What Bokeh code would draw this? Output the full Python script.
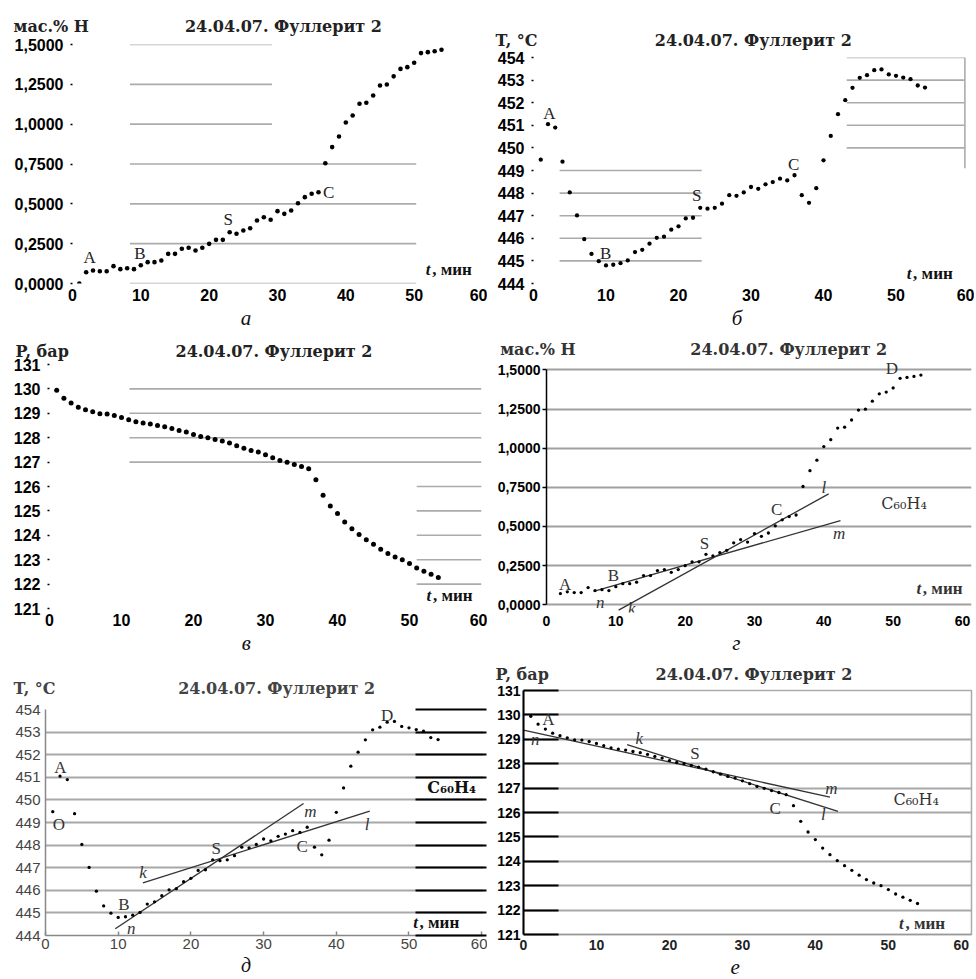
from bokeh.plotting import figure
from bokeh.layouts import column, row
from bokeh.models import Range1d, FixedTicker, Label, LinearAxis, Title, Plot
from bokeh.embed import file_html
from bokeh.resources import INLINE

# ---------------- data ----------------
t_min = list(range(1, 55))
h_wt = [0.0, 0.071, 0.082, 0.077, 0.077, 0.109, 0.09, 0.096, 0.09, 0.115,
        0.134, 0.134, 0.144, 0.186, 0.186, 0.218, 0.224, 0.207, 0.224, 0.249,
        0.274, 0.274, 0.322, 0.312, 0.333, 0.347, 0.395, 0.416, 0.4, 0.454,
        0.437, 0.458, 0.504, 0.542, 0.563, 0.573, 0.755, 0.856, 0.923, 1.01,
        1.054, 1.128, 1.134, 1.18, 1.243, 1.249, 1.3, 1.347, 1.358, 1.385,
        1.446, 1.452, 1.458, 1.467]
T_c = [449.48, 451.05, 450.9, 449.39, 448.03, 447.01, 445.96, 445.31, 444.99, 444.8,
       444.83, 444.9, 445.02, 445.39, 445.49, 445.76, 446.02, 446.07, 446.38, 446.53,
       446.88, 446.91, 447.35, 447.31, 447.35, 447.53, 447.91, 447.88, 448.03, 448.27,
       448.19, 448.39, 448.49, 448.64, 448.56, 448.79, 447.91, 447.57, 448.22, 449.45,
       450.53, 451.49, 452.11, 452.66, 453.1, 453.22, 453.44, 453.47, 453.25, 453.19,
       453.11, 453.04, 452.76, 452.67]
P_bar = [129.94, 129.62, 129.42, 129.25, 129.15, 129.06, 128.98, 128.97, 128.91, 128.83,
         128.74, 128.65, 128.6, 128.56, 128.5, 128.45, 128.38, 128.3, 128.23, 128.13,
         128.05, 128.0, 127.93, 127.86, 127.78, 127.67, 127.57, 127.48, 127.41, 127.3,
         127.18, 127.07, 126.99, 126.9, 126.82, 126.73, 126.28, 125.64, 125.2, 124.89,
         124.54, 124.27, 124.03, 123.82, 123.63, 123.43, 123.25, 123.11, 123.0, 122.84,
         122.66, 122.53, 122.4, 122.27]

# tangent lines (end points)
g_nm_t = [6.8, 42.4];   g_nm_h = [0.085, 0.537]
g_kl_t = [10.4, 40.7];  g_kl_h = [-0.035, 0.708]
d_nm_t = [9.6, 35.5];   d_nm_T = [444.3, 449.84]
d_kl_t = [13.4, 44.6];  d_kl_T = [446.33, 449.5]
e_nm_t = [0.0, 42.0];   e_nm_P = [129.38, 126.63]
e_kl_t = [14.2, 43.1];  e_kl_P = [128.78, 126.05]

# ticks
x_ticks = [0, 10, 20, 30, 40, 50, 60]
h_ticks = [0.0, 0.25, 0.5, 0.75, 1.0, 1.25, 1.5]
h_tick_labels = ["0,0000", "0,2500", "0,5000", "0,7500", "1,0000", "1,2500", "1,5000"]
T_ticks = list(range(444, 455))
P_ticks = list(range(121, 132))

TITLE = "24.04.07. Фуллерит 2"
UNIT_H = "мас.% H"
UNIT_T = "T, °C"
UNIT_P = "P, бар"

GRID_COL = "#ababab"
TFONT = 16            # px, title font size
EM = "\u2003"
SIXTH = "\u2006"
# estimated advance widths (em) of the unit labels in DejaVu Serif Bold
UNIT_W = {UNIT_H: 4.68, UNIT_T: 2.78, UNIT_P: 3.58}
HAS_FRAME_ALIGN = "frame_align" in Plot.properties()


def spaces(width, size):
    """run of em / sixth-em spaces about `width` px wide at font size `size`"""
    n_em = int(width // size)
    n_6 = int(round((width - n_em * size) / (size / 6.0)))
    return EM * n_em + SIXTH * n_6


def base_fig(fw, fh, bl, br, bt, bb, xr, yr):
    p = figure(frame_width=fw, frame_height=fh,
               x_range=Range1d(*xr), y_range=Range1d(*yr),
               output_backend="svg", toolbar_location=None,
               min_border_left=bl, min_border_right=br,
               min_border_top=bt, min_border_bottom=bb)
    if HAS_FRAME_ALIGN:
        p.frame_align = False
    p.outline_line_color = None
    p.xgrid.grid_line_color = None
    p.ygrid.grid_line_color = None
    return p


def style_axis(ax, ticks, size, weight, color, tick_in, tick_out, standoff,
               line_color, overrides=None, tick_color="black", tick_width=1.5,
               line_width=1.5):
    ax.ticker = FixedTicker(ticks=ticks)
    ax.major_label_text_font = "Liberation Sans"
    ax.major_label_text_font_size = f"{size}px"
    ax.major_label_text_font_style = weight
    ax.major_label_text_color = color
    ax.major_tick_in = tick_in
    ax.major_tick_out = tick_out
    ax.minor_tick_in = 0
    ax.minor_tick_out = 0
    ax.major_label_standoff = standoff
    ax.axis_line_color = line_color
    ax.axis_line_width = line_width
    ax.major_tick_line_color = tick_color
    ax.major_tick_line_width = tick_width
    if overrides:
        ax.major_label_overrides = overrides


def lab(p, x, y, text, size=16, font="Liberation Serif", style="normal",
        align="center", baseline="middle", color="#222", xoff=0):
    p.add_layout(Label(x=x, y=y, text=text, text_font=font,
                       text_font_size=f"{size}px", text_font_style=style,
                       text_align=align, text_baseline=baseline,
                       text_color=color, x_offset=xoff))


def head(p, unit, unit_x, title_x, frame_left, standoff, color="#222"):
    """unit label and title on one line above the frame (canvas px positions)"""
    gap = title_x - unit_x - UNIT_W[unit] * TFONT
    text = unit + spaces(gap, TFONT) + TITLE
    p.add_layout(Title(text=text, align="left", offset=unit_x - frame_left,
                       standoff=standoff, text_font="DejaVu Serif",
                       text_font_size=f"{TFONT}px", text_font_style="bold",
                       text_color=color), "above")


def letter(p, text, shift, size=21):
    # centred under the frame; trailing spaces move the letter `shift` px left
    p.add_layout(Title(text=text + spaces(2 * shift, size), align="center",
                       standoff=0, text_font="Liberation Serif",
                       text_font_style="italic", text_font_size=f"{size}px",
                       text_color="#111"), "below")


def partial_grid(p, rows):
    x0 = [r[1] for r in rows]
    x1 = [r[2] for r in rows]
    y = [r[0] for r in rows]
    p.segment(x0=x0, y0=y, x1=x1, y1=y, line_color=GRID_COL, line_width=1.6)


def t_label(p, x, y, size=17, color="#111"):
    lab(p, x, y, "t", size=size, style="bold italic", color=color)
    lab(p, x, y, ", мин", size=size, style="bold", align="left", color=color, xoff=4)


h_over = dict(zip(h_ticks, h_tick_labels))

# ---------------- panel а ----------------
pa = base_fig(410, 239, 72, 5, 44, 47, (0, 60), (0, 1.5))
style_axis(pa.below[0], x_ticks, 16, "bold", "black", 0, 0, 5, None)
style_axis(pa.left[0], h_ticks, 16, "bold", "black", 0, 2, 7, None, h_over)
partial_grid(pa, [(1.5, 8.4, 29.2), (1.25, 8.4, 29.2), (1.0, 8.4, 29.2),
                  (0.75, 8.4, 50.3), (0.5, 8.4, 50.3), (0.25, 8.4, 50.3),
                  (0.0, 8.4, 50.3)])
pa.scatter(t_min, h_wt, size=4.6, marker="circle", fill_color="black", line_color=None)
for (x, y, s) in [(2.5, 0.161, "A"), (9.85, 0.19, "B"), (22.8, 0.4, "S"), (37.5, 0.573, "C")]:
    lab(pa, x, y, s, size=17)
t_label(pa, 52.05, 0.086)
head(pa, UNIT_H, 13, 184, 72, 17)
letter(pa, "а", 32)

# ---------------- panel б ----------------
pb = base_fig(435, 226, 46, 6, 57, 47, (0, 60), (444, 454))
style_axis(pb.below[0], x_ticks, 16, "bold", "black", 0, 0, 5, None)
style_axis(pb.left[0], T_ticks, 16, "bold", "black", 0, 2, 7, None)
partial_grid(pb, [(449, 3.6, 23.2), (448, 3.6, 23.2), (447, 3.6, 23.2),
                  (446, 3.6, 23.2), (445, 3.6, 23.2),
                  (454, 43.2, 59.5), (453, 43.2, 59.5), (452, 43.2, 59.5),
                  (451, 43.2, 59.5), (450, 43.2, 59.5)])
pb.segment(x0=[59.5], y0=[449.1], x1=[59.5], y1=[454.0], line_color=GRID_COL, line_width=1.6)
pb.scatter(t_min, T_c, size=4.3, marker="circle", fill_color="black", line_color=None)
for (x, y, s) in [(2.2, 451.54, "A"), (9.97, 445.34, "B"), (22.5, 447.89, "S"), (35.9, 449.27, "C")]:
    lab(pb, x, y, s, size=17)
t_label(pb, 51.8, 444.43)
head(pb, UNIT_T, 8, 169, 46, 16)
letter(pb, "б", 14.5)

# ---------------- panel в ----------------
pc = base_fig(432, 244, 49, 6, 34, 47, (0, 60), (121, 131))
style_axis(pc.below[0], x_ticks, 16, "bold", "black", 0, 0, 5, None)
style_axis(pc.left[0], P_ticks, 16, "bold", "black", 0, 2, 7, None)
partial_grid(pc, [(130, 11.1, 60), (129, 11.1, 60), (128, 11.1, 60), (127, 11.1, 60),
                  (126, 51.0, 60), (125, 51.0, 60), (124, 51.0, 60), (123, 51.0, 60),
                  (122, 51.0, 60)])
pc.scatter(t_min, P_bar, size=5, marker="circle", fill_color="black", line_color=None)
t_label(pc, 52.7, 121.52)
head(pc, UNIT_P, 15, 179, 49, 8)
letter(pc, "в", 20)

# ---------------- panel г ----------------
pd_ = base_fig(425, 252, 59, 3, 30, 43, (0, 61.3), (-0.05, 1.56))
style_axis(pd_.below[0], x_ticks, 14, "bold", "black", 0, 0, 3, None)
style_axis(pd_.left[0], h_ticks, 14, "bold", "black", 0, 4, 2, "black", h_over)
pd_.left[0].bounds = (0, 1.5)
pd_.ygrid.ticker = FixedTicker(ticks=h_ticks)
pd_.ygrid.grid_line_color = "#a0a0a0"
pd_.ygrid.grid_line_width = 1.8
pd_.line(g_nm_t, g_nm_h, line_color="#333", line_width=1.3)
pd_.line(g_kl_t, g_kl_h, line_color="#333", line_width=1.3)
pd_.scatter(t_min[1:], h_wt[1:], size=3.3, marker="circle", fill_color="black", line_color=None)
for (x, y, s) in [(2.7, 0.132, "A"), (9.67, 0.185, "B"), (22.8, 0.388, "S"),
                  (33.2, 0.605, "C"), (49.8, 1.507, "D")]:
    lab(pd_, x, y, s, size=17, color="#333")
for (x, y, s) in [(40.0, 0.75, "l"), (42.2, 0.452, "m"), (7.75, 0.015, "n"), (12.3, -0.022, "k")]:
    lab(pd_, x, y, s, size=17, style="italic", color="#333")
lab(pd_, 48.3, 0.645, "C₆₀H₄", size=16, font="DejaVu Serif", align="left", color="#333")
t_label(pd_, 53.7, 0.104, color="#333")
head(pd_, UNIT_H, 12.7, 202.7, 59, 3, color="#333")
letter(pd_, "г", 23.5)

# ---------------- panel д ----------------
pe = base_fig(438, 226, 45, 4, 54, 43, (0, 60.25), (444, 454))
style_axis(pe.below[0], x_ticks, 15, "normal", "#444", 4, 0, 3, "#888", tick_color="#888")
style_axis(pe.left[0], T_ticks, 15, "normal", "#444", 0, 0, 5, "#888")
pe.ygrid.ticker = FixedTicker(ticks=T_ticks)
pe.ygrid.grid_line_color = "#a8a8a8"
pe.ygrid.grid_line_width = 1.8
rax = LinearAxis(ticker=FixedTicker(ticks=T_ticks), major_tick_in=68, major_tick_out=3,
                 major_tick_line_color="black", major_tick_line_width=1.8,
                 minor_tick_in=0, minor_tick_out=0, axis_line_color=None,
                 major_label_text_font_size="1px", major_label_standoff=0,
                 major_label_overrides={v: "" for v in T_ticks})
pe.add_layout(rax, "right")
pe.line(d_nm_t, d_nm_T, line_color="#333", line_width=1.3)
pe.line(d_kl_t, d_kl_T, line_color="#333", line_width=1.3)
pe.scatter(t_min, T_c, size=3.3, marker="circle", fill_color="black", line_color=None)
for (x, y, s) in [(2.06, 451.42, "A"), (1.83, 448.91, "O"), (10.8, 445.37, "B"),
                  (23.5, 447.84, "S"), (35.3, 447.95, "C"), (47.0, 453.72, "D")]:
    lab(pe, x, y, s, size=17, color="#333")
for (x, y, s) in [(36.45, 449.5, "m"), (44.25, 448.91, "l"), (13.4, 446.77, "k"), (11.8, 444.31, "n")]:
    lab(pe, x, y, s, size=17, style="italic", color="#333")
lab(pe, 52.5, 450.55, "C₆₀H₄", size=16, font="DejaVu Serif", style="bold", align="left", color="#111")
t_label(pe, 50.9, 444.56)
head(pe, UNIT_T, 13, 180, 45, 23, color="#444")
letter(pe, "д", 19, size=20)

# ---------------- panel е ----------------
pf = base_fig(448, 244, 36, 3, 34, 45, (0, 61.4), (121, 131))
style_axis(pf.below[0], x_ticks, 14, "bold", "#222", 0, 0, 5, "#999")
style_axis(pf.left[0], P_ticks, 14, "bold", "black", 35, 0, 3, "black", tick_width=2, line_width=2)
pf.ygrid.ticker = FixedTicker(ticks=P_ticks)
pf.ygrid.grid_line_color = "#a8a8a8"
pf.ygrid.grid_line_width = 1.8
pf.outline_line_color = "#aaaaaa"
pf.outline_line_width = 1.5
pf.line(e_nm_t, e_nm_P, line_color="#333", line_width=1.3)
pf.line(e_kl_t, e_kl_P, line_color="#333", line_width=1.3)
pf.scatter(t_min, P_bar, size=3.3, marker="circle", fill_color="black", line_color=None)
for (x, y, s) in [(3.4, 129.8, "A"), (23.5, 128.43, "S"), (34.5, 126.16, "C")]:
    lab(pf, x, y, s, size=17, color="#333")
for (x, y, s) in [(1.6, 128.98, "n"), (15.85, 129.05, "k"), (42.2, 127.0, "m"), (41.1, 125.91, "l")]:
    lab(pf, x, y, s, size=17, style="italic", color="#333")
lab(pf, 50.7, 126.53, "C₆₀H₄", size=16, font="DejaVu Serif", align="left", color="#333")
t_label(pf, 51.8, 121.47, color="#333")
head(pf, UNIT_P, 8, 171, 36, 14, color="#333")
letter(pf, "е", 12)

layout = column(row(pa, pb), row(pc, pd_), row(pe, pf))
open("out.html", "w").write(file_html(layout, INLINE))
